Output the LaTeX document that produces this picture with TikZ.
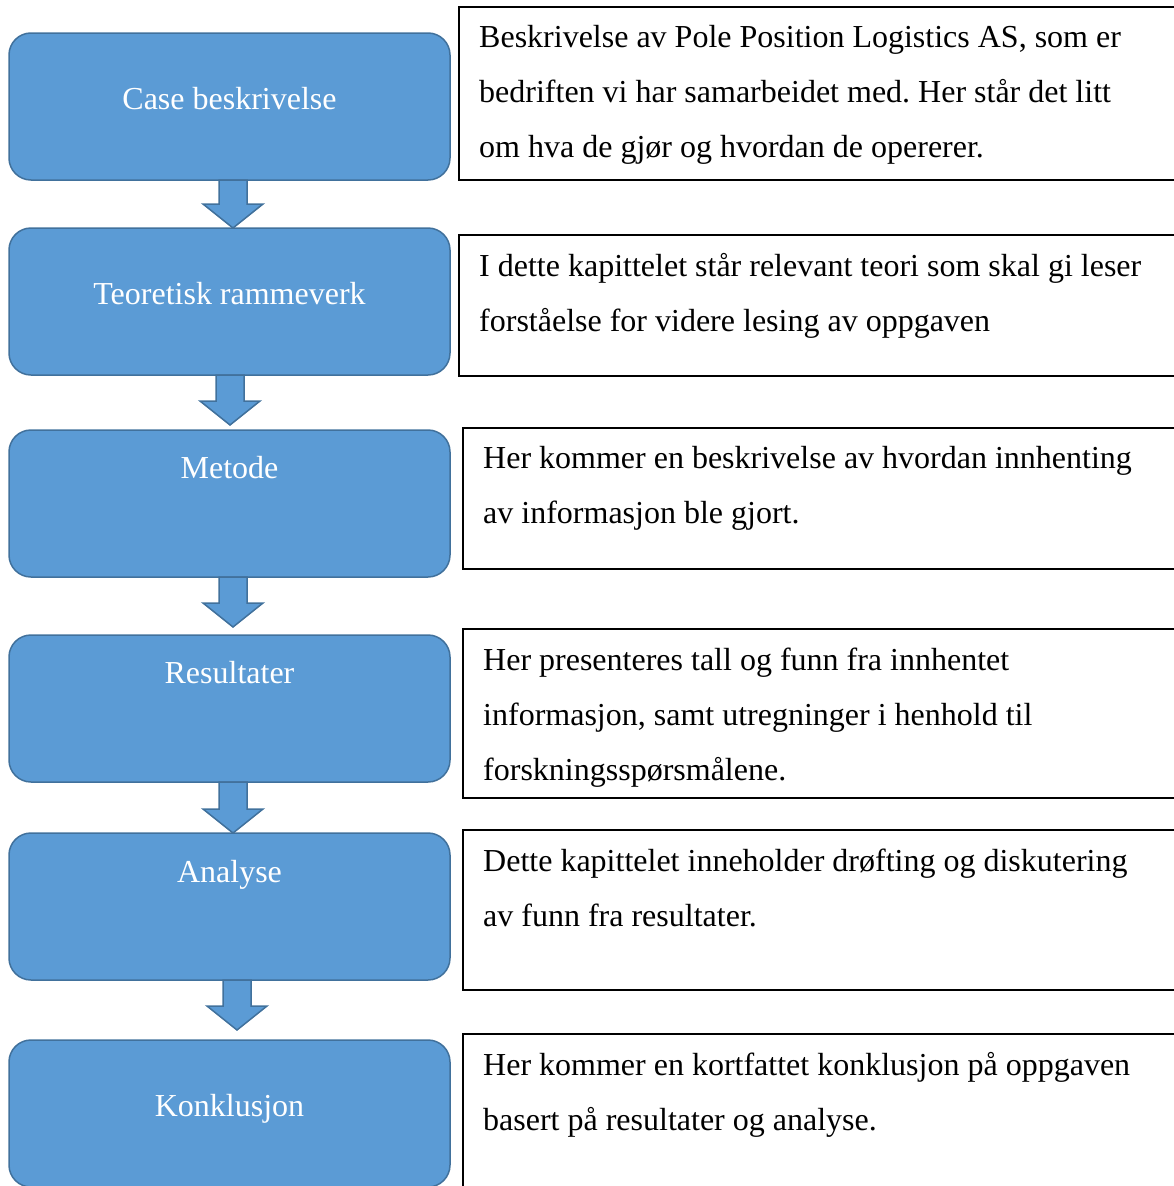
\documentclass[tikz,border=0pt]{standalone}
\usepackage{fontspec}
\setmainfont{Liberation Serif}
\frenchspacing
\usetikzlibrary{calc}
\usetikzlibrary{positioning}
\definecolor{boxblue}{HTML}{5B9BD5}
\definecolor{boxedge}{HTML}{41719C}
\tikzset{
boxline/.style={line width=1.5pt},
chapter/.style={draw=boxedge, fill=boxblue, boxline, rounded corners=22pt,
	minimum width=441pt, minimum height=147pt, inner sep=0pt, outer sep=0pt},
chaptertext/.style={text=white, inner sep=0pt, font=\fontsize{32}{38}\selectfont},
desc/.style={draw=black, boxline, anchor=north west, minimum width=730pt, inner sep=0pt},
desctext/.style={anchor=north west, align=left, inner sep=0pt, xshift=21pt, yshift=-19.5pt,
	font=\fontsize{32}{55}\selectfont},
blockarrow/.style={draw=boxedge, fill=boxblue, boxline, line join=miter,
	to path={($(\tikztostart)+(-14,0)$) -- ($(\tikztotarget)+(-14,-24)$)
		-- ($(\tikztotarget)+(-30,-24)$) -- (\tikztotarget)
		-- ($(\tikztotarget)+(30,-24)$) -- ($(\tikztotarget)+(14,-24)$)
		-- ($(\tikztostart)+(14,0)$) -- cycle}},
}

\begin{document}
\begin{tikzpicture}[x=1pt, y=-1pt]
\useasboundingbox (0,0) rectangle (1173,1186);
%Place the chapters
\node[chapter, label={[chaptertext, yshift=8pt]center:Case beskrivelse}] (case) at (229.5,106.5) {};
\node[chapter, below=48pt of case, label={[chaptertext, yshift=8pt]center:Teoretisk rammeverk}] (teori) {};
\node[chapter, below=55pt of teori, label={[chaptertext, yshift=36pt]center:Metode}] (metode) {};
\node[chapter, below=58pt of metode, label={[chaptertext, yshift=36pt]center:Resultater}] (res) {};
\node[chapter, below=51pt of res, label={[chaptertext, yshift=32pt]center:Analyse}] (analyse) {};
\node[chapter, below=60pt of analyse, label={[chaptertext, yshift=5pt]center:Konklusjon}] (konkl) {};

%Descriptions
\node[desc, minimum height=173pt, label={[desctext]north west:Beskrivelse av Pole Position Logistics AS, som er\\bedriften vi har samarbeidet med. Her står det litt\\om hva de gjør og hvordan de opererer.}] (d1) at (458,6) {};
\node[desc, minimum height=141pt, label={[desctext]north west:I dette kapittelet står relevant teori som skal gi leser\\forståelse for videre lesing av oppgaven}] (d2) at (458,234) {};
\node[desc, minimum height=141pt, label={[desctext]north west:Her kommer en beskrivelse av hvordan innhenting\\av informasjon ble gjort.}] (d3) at (462,427) {};
\node[desc, minimum height=169pt, label={[desctext]north west:Her presenteres tall og funn fra innhentet\\informasjon, samt utregninger i henhold til\\forskningsspørsmålene.}] (d4) at (462,628) {};
\node[desc, minimum height=160pt, label={[desctext]north west:Dette kapittelet inneholder drøfting og diskutering\\av funn fra resultater.}] (d5) at (462,829) {};
\node[desc, minimum height=200pt, label={[desctext]north west:Her kommer en kortfattet konklusjon på oppgaven\\basert på resultater og analyse.}] (d6) at (462,1033) {};

%
\draw[blockarrow] ([xshift=3.5pt]case.south) to ([xshift=3.5pt]teori.north);
\draw[blockarrow] ([xshift=0.5pt]teori.south) to ([xshift=0.5pt,yshift=5pt]metode.north);
\draw[blockarrow] ([xshift=3.5pt]metode.south) to ([xshift=3.5pt,yshift=8pt]res.north);
\draw[blockarrow] ([xshift=3.5pt]res.south) to ([xshift=3.5pt]analyse.north);
\draw[blockarrow] ([xshift=7.5pt]analyse.south) to ([xshift=7.5pt,yshift=10pt]konkl.north);
\end{tikzpicture}
\end{document}
